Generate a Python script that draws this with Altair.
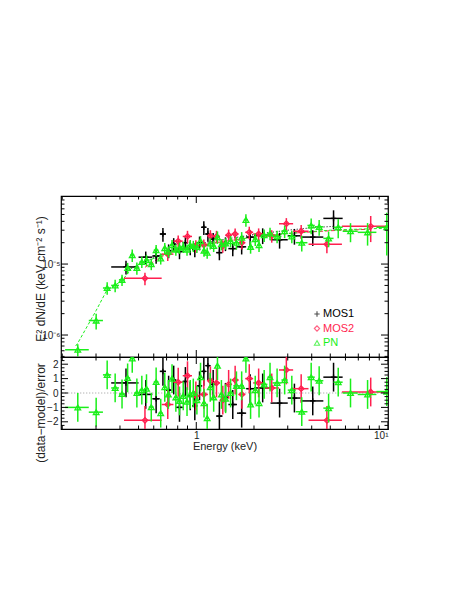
import altair as alt
import numpy as np
import pandas as pd

# ---------------- data ----------------
# PN (green triangles): energy bin edges (keV), E^2 dN/dE, fractional error, residual
pn_edges = [0.207, 0.275, 0.326, 0.36, 0.395, 0.425, 0.452, 0.475, 0.505, 0.535, 0.565,
            0.60, 0.635, 0.67, 0.70, 0.73, 0.765, 0.80, 0.835, 0.875, 0.915, 0.945, 0.985,
            1.03, 1.075, 1.12, 1.16, 1.205, 1.26, 1.32, 1.385, 1.46, 1.56, 1.68, 1.77, 1.86,
            1.98, 2.08, 2.17, 2.35, 2.50, 2.78, 3.0, 3.3, 3.8, 4.15, 4.6, 5.2, 5.8, 6.95, 8.7, 11.0]
pn_flux = [6.2e-7, 1.6e-6, 4.6e-6, 5.0e-6, 6.0e-6, 8.8e-6, 1.34e-5, 8.8e-6, 1.07e-5, 1.14e-5,
           1.0e-5, 1.57e-5, 1.2e-5, 1.68e-5, 1.5e-5, 1.85e-5, 1.6e-5, 1.7e-5, 1.75e-5, 1.6e-5,
           1.85e-5, 1.8e-5, 1.75e-5, 2.1e-5, 1.55e-5, 1.45e-5, 1.95e-5, 1.8e-5, 2.4e-5, 1.9e-5,
           1.95e-5, 2.1e-5, 2.0e-5, 2.35e-5, 4.2e-5, 1.75e-5, 2.25e-5, 1.85e-5, 2.55e-5, 2.7e-5,
           2.45e-5, 2.9e-5, 2.45e-5, 2.0e-5, 3.5e-5, 3.35e-5, 2.3e-5, 3.3e-5, 2.9e-5, 2.8e-5, 3.3e-5]
pn_ferr = [0.2, 0.25, 0.2, 0.2, 0.18, 0.18, 0.2, 0.2, 0.18, 0.18,
           0.18, 0.18, 0.18, 0.18, 0.18, 0.18, 0.18, 0.18, 0.18, 0.18,
           0.18, 0.18, 0.18, 0.18, 0.18, 0.18, 0.18, 0.18, 0.2, 0.18,
           0.18, 0.18, 0.2, 0.2, 0.2, 0.2, 0.2, 0.2, 0.2, 0.2,
           0.2, 0.2, 0.2, 0.25, 0.25, 0.25, 0.25, 0.3, 0.3, 0.35, 0.6]
pn_resid = [-1.0, -1.33, 1.26, 0.35, -0.07, 1.05, 2.4, 0.0, 0.2, 0.3,
            -0.98, 0.77, -1.4, 0.4, -0.1, 1.0, -0.3, -0.55, -0.2, -0.6,
            -0.1, 0.0, -0.5, 1.1, -0.7, -1.75, 0.4, -0.3, 1.9, -0.1,
            -0.4, 0.0, 0.5, 0.5, 2.4, -0.8, 0.2, -0.7, 0.6, 1.1,
            0.7, 0.9, 0.2, -1.3, 1.1, 0.85, -1.05, 0.75, 0.0, -0.1, 0.1]

# MOS1 (black crosses)
mos1_edges = [0.36, 0.50, 0.59, 0.645, 0.695, 0.74, 0.785, 0.85, 0.905, 0.955, 1.01, 1.07,
              1.12, 1.18, 1.27, 1.37, 1.47, 1.63, 1.82, 2.0, 2.44, 3.0, 3.5, 4.6, 5.8]
mos1_flux = [9.1e-6, 1.25e-5, 1.3e-5, 2.65e-5, 1.55e-5, 1.9e-5, 1.5e-5, 2.0e-5, 1.7e-5, 1.6e-5,
             2.0e-5, 3.3e-5, 2.65e-5, 2.25e-5, 1.45e-5, 1.95e-5, 1.65e-5, 1.75e-5, 2.4e-5, 2.55e-5,
             2.2e-5, 2.5e-5, 2.4e-5, 4.4e-5]
mos1_ferr = [0.22, 0.2, 0.22, 0.22, 0.22, 0.22, 0.22, 0.22, 0.22, 0.22,
             0.22, 0.22, 0.22, 0.22, 0.22, 0.22, 0.22, 0.22, 0.25, 0.25,
             0.25, 0.25, 0.25, 0.3]
mos1_resid = [0.7, -0.1, -0.4, 1.5, 0.2, 0.9, -1.0, 0.8, -0.2, -0.9,
              0.5, 1.5, 1.9, 0.6, -1.6, -0.3, -0.8, -1.4, 0.3, 0.35,
              -0.7, -0.35, -0.55, 1.1]

# MOS2 (red diamonds)
mos2_edges = [0.42, 0.66, 0.76, 0.85, 0.95, 1.04, 1.15, 1.22, 1.33, 1.42, 1.53, 1.66,
              1.8, 1.98, 2.25, 2.7, 3.2, 3.85, 5.75, 10.5]
mos2_flux = [6.3e-6, 1.38e-5, 2.1e-5, 2.45e-5, 1.8e-5, 1.85e-5, 2.5e-5, 2.45e-5, 1.8e-5, 2.55e-5,
             2.65e-5, 2.0e-5, 2.8e-5, 2.65e-5, 2.5e-5, 3.7e-5, 2.9e-5, 1.9e-5, 3.4e-5]
mos2_ferr = [0.2, 0.2, 0.2, 0.2, 0.2, 0.2, 0.2, 0.2, 0.2, 0.2,
             0.2, 0.2, 0.2, 0.2, 0.2, 0.2, 0.22, 0.25, 0.4]
mos2_resid = [-1.9, -0.8, 0.75, 1.2, -0.2, -0.1, 0.85, 0.7, -0.5, 0.6,
              0.9, -0.1, 1.0, 0.7, 0.35, 1.6, 0.3, -1.9, 0.07]

# model curves
pn_model_e = [0.235, 0.241, 0.30, 0.342, 0.41, 0.46, 0.55, 0.65, 0.8, 1.0, 1.5, 2.0, 3.0, 5.0, 7.0, 10.0]
pn_model_f = [7.0e-7, 7.7e-7, 2.2e-6, 4.3e-6, 5.8e-6, 8.8e-6, 1.1e-5, 1.3e-5, 1.6e-5, 1.8e-5,
              2.15e-5, 2.4e-5, 2.7e-5, 3.0e-5, 3.1e-5, 3.2e-5]
mos1_model_e = [0.43, 0.55, 0.65, 0.8, 1.0, 1.5, 2.0, 3.0, 4.0, 5.2]
mos1_model_f = [8.0e-6, 1.1e-5, 1.35e-5, 1.65e-5, 1.9e-5, 2.3e-5, 2.6e-5, 3.0e-5, 3.25e-5, 3.4e-5]
mos2_model_e = [0.54, 0.65, 0.8, 1.0, 1.5, 2.0, 3.0, 5.0, 7.0, 8.1]
mos2_model_f = [9.0e-6, 1.25e-5, 1.6e-5, 1.8e-5, 2.15e-5, 2.4e-5, 2.7e-5, 2.95e-5, 3.05e-5, 3.1e-5]

legend_names = ["MOS1", "MOS2", "PN"]
top_title = "E² dN/dE (keV cm⁻² s⁻¹)"
bot_title = "(data−model)/error"

# axis tick values
x_major = [1, 10]
x_minor = [0.2, 0.3, 0.4, 0.5, 0.6, 0.7, 0.8, 0.9, 2, 3, 4, 5, 6, 7, 8, 9]
y_major = [1e-6, 1e-5]
y_minor = [5e-7, 6e-7, 7e-7, 8e-7, 9e-7] + [m * 10.0 ** k for k in (-6, -5) for m in range(2, 10)]
r_major = [-2, -1, 0, 1, 2]
r_minor = [v / 4 for v in range(-9, 10) if v % 4 != 0]

# ---------------- styling ----------------
BLACK, RED, GREEN = "#000000", "#ff1f4f", "#1aef1a"
FONT = "Liberation Sans"
W, H_TOP, H_BOT = 327, 161, 72

xscale = alt.Scale(type="log", domain=[0.197, 10], nice=False)
yscale = alt.Scale(type="log", domain=[4.9e-7, 9.1e-5], nice=False)
rscale = alt.Scale(domain=[-2.5, 2.5], nice=False, zero=False)

top_axis_y = alt.Axis(values=y_major, labelExpr="datum.value < 5e-6 ? '10⁻⁶' : '10⁻⁵'",
                      ticks=False, domain=False, grid=False, labelPadding=1, title=None)
bot_axis_y = alt.Axis(values=r_major, format="d", ticks=False, domain=False, grid=False,
                      labelPadding=3, title=None)
bot_axis_x = alt.Axis(values=x_major, labelExpr="datum.value < 5 ? '1' : '10¹'",
                      ticks=False, domain=False, grid=False, labelPadding=1,
                      title="Energy (keV)", titlePadding=0)


def make_df(edges, flux, ferr, resid):
    ed = np.array(edges, dtype=float)
    f = np.array(flux, dtype=float)
    fe = np.array(ferr, dtype=float) * f
    r = np.array(resid, dtype=float)
    return pd.DataFrame({"elo": ed[:-1], "ehi": ed[1:], "e": (ed[:-1] + ed[1:]) / 2,
                         "flux": f, "flo": f - fe, "fhi": f + fe,
                         "r": r, "rlo": r - 1, "rhi": r + 1})


series = [
    (make_df(mos1_edges, mos1_flux, mos1_ferr, mos1_resid), BLACK,
     "M-1,0H1M0,-1V1", 30, mos1_model_e, mos1_model_f, [1, 2]),
    (make_df(mos2_edges, mos2_flux, mos2_ferr, mos2_resid), RED,
     "diamond", 30, mos2_model_e, mos2_model_f, [4, 2]),
    (make_df(pn_edges, pn_flux, pn_ferr, pn_resid), GREEN,
     "triangle-up", 32, pn_model_e, pn_model_f, [3, 2]),
]

one = pd.DataFrame({"a": [0]})


def panel(height, yfield_scale, yaxis, xaxis, ymaj, ymin, yval, ylo, yhi, models, title, title_y):
    XE = lambda f: alt.X(f, type="quantitative", scale=xscale, axis=xaxis)
    YE = lambda f: alt.Y(f, type="quantitative", scale=yfield_scale, axis=yaxis)
    layers = []
    if models:
        for df, col, shape, size, me, mf, dash in series:
            mdf = pd.DataFrame({"e": me, yval: mf})
            layers.append(alt.Chart(mdf).mark_line(color=col, strokeWidth=1, strokeDash=dash,
                                                   clip=True).encode(x=XE("e"), y=YE(yval)))
    else:
        zdf = pd.DataFrame({"e": [0.2, 10], yval: [0, 0]})
        layers.append(alt.Chart(zdf).mark_line(color="#999999", strokeWidth=1, strokeDash=[1, 2],
                                               clip=True).encode(x=XE("e"), y=YE(yval)))
    for df, col, shape, size, me, mf, dash in series:
        layers.append(alt.Chart(df).mark_rule(color=col, strokeWidth=1.5, clip=True).encode(
            x=XE("elo"), x2="ehi", y=YE(yval)))
        layers.append(alt.Chart(df).mark_rule(color=col, strokeWidth=1.5, clip=True).encode(
            x=XE("e"), y=YE(ylo), y2=yhi))
        layers.append(alt.Chart(df).mark_point(color=col, shape=shape, size=size, filled=False,
                                               strokeWidth=1.3, opacity=1, clip=True).encode(
            x=XE("e"), y=YE(yval)))
    # inward ticks on all four sides
    for vals, ln in ((ymaj, 7), (ymin, 3.5)):
        d = pd.DataFrame({"v": vals})
        b = alt.Chart(d).mark_rule(color="black", strokeWidth=1, clip=True)
        layers.append(b.encode(y=YE("v"), x=alt.value(0), x2=alt.value(ln)))
        layers.append(b.encode(y=YE("v"), x=alt.value(W - ln), x2=alt.value(W)))
    for vals, ln in ((x_major, 7), (x_minor, 3.5)):
        d = pd.DataFrame({"v": vals})
        b = alt.Chart(d).mark_rule(color="black", strokeWidth=1, clip=True)
        layers.append(b.encode(x=XE("v"), y=alt.value(height - ln), y2=alt.value(height)))
        layers.append(b.encode(x=XE("v"), y=alt.value(0), y2=alt.value(ln)))
    # rotated y-axis title
    layers.append(alt.Chart(one).mark_text(font=FONT, fontSize=12, color="#222222", angle=270,
                                           align="center", baseline="middle").encode(
        x=alt.value(-20), y=alt.value(title_y), text=alt.value(title)))
    return layers


top_layers = panel(H_TOP, yscale, top_axis_y, None, y_major, y_minor,
                   "flux", "flo", "fhi", True, top_title, 83)

# legend (inside, lower right)
for i, (df, col, shape, size, me, mf, dash) in enumerate(series):
    yy = 118 + 14.5 * i
    top_layers.append(alt.Chart(one).mark_point(color=col, shape=shape, size=28, filled=False,
                                                 strokeWidth=1.1).encode(
        x=alt.value(256), y=alt.value(yy)))
    top_layers.append(alt.Chart(one).mark_text(color=col, font=FONT, fontSize=11, align="left",
                                                baseline="middle").encode(
        x=alt.value(262), y=alt.value(yy), text=alt.value(legend_names[i])))

top = alt.layer(*top_layers).properties(width=W, height=H_TOP)

bot_layers = panel(H_BOT, rscale, bot_axis_y, bot_axis_x, r_major, r_minor,
                   "r", "rlo", "rhi", False, bot_title, 56)
bottom = alt.layer(*bot_layers).properties(width=W, height=H_BOT)

chart = (alt.vconcat(top, bottom, spacing=0, bounds="flush")
         .properties(padding={"left": 26, "top": 187, "right": 10, "bottom": 10})
         .configure_view(stroke="black", strokeWidth=1.2)
         .configure_axis(labelFont=FONT, titleFont=FONT, labelFontSize=10, titleFontSize=11,
                         labelColor="#222222", titleColor="#222222", titleFontWeight="normal"))

chart.save("out.html", embed_options={"renderer": "svg", "actions": False})
